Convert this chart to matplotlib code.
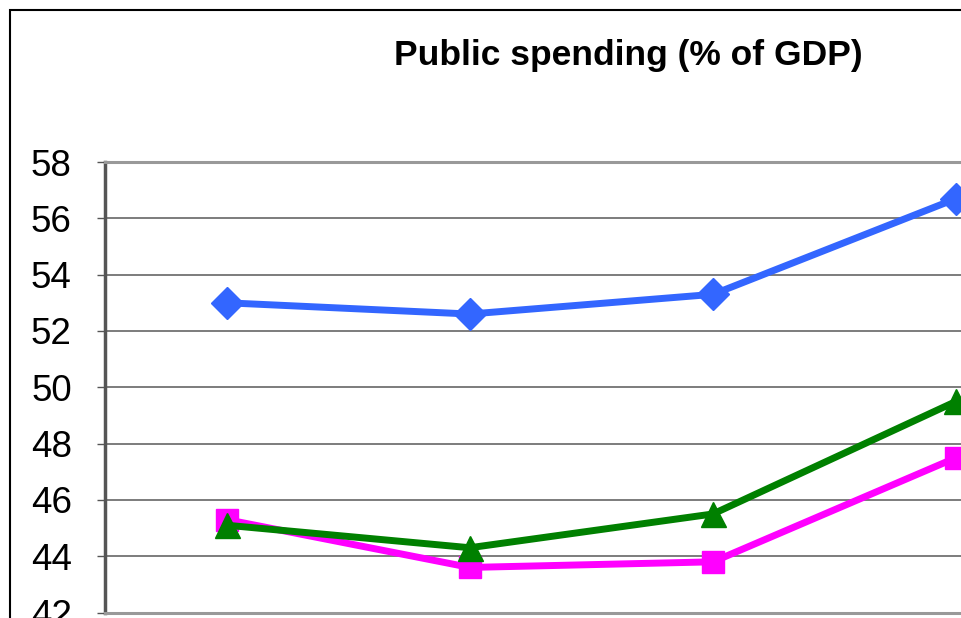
import matplotlib.pyplot as plt
from matplotlib.patches import Rectangle

plt.rcParams['font.family'] = ['Liberation Sans', 'DejaVu Sans']

# public spending, % of GDP
periods = [0, 1, 2, 3]
spend_a = [53.0, 52.6, 53.3, 56.7]
spend_b = [45.3, 43.6, 43.8, 47.5]
spend_c = [45.1, 44.3, 45.5, 49.5]
yticks = [42, 44, 46, 48, 50, 52, 54, 56, 58]

W, H = 961, 618
fig = plt.figure(figsize=(W / 100, H / 100), dpi=100)

# axes box runs off the right edge of the figure
left, top, bottom = 105, 162, 612.5
right = 105 + 243.2 * 4
ax = fig.add_axes([left / W, 1 - bottom / H, (right - left) / W, (bottom - top) / H])

ax.plot(periods, spend_a, color='#3366FF', lw=5, marker='D', ms=16,
        clip_on=False, zorder=3)
ax.plot(periods, spend_b, color='#FF00FF', lw=5, marker='s', ms=16,
        clip_on=False, zorder=3)
ax.plot(periods, spend_c, color='#008000', lw=5, marker='^', ms=18,
        clip_on=False, zorder=4)

ax.set_xlim(-0.5, 3.5)
ax.set_ylim(42, 58)
ax.set_yticks(yticks)
ax.set_xticks([])
ax.tick_params(axis='y', direction='out', length=6, width=1, color='#555555',
               labelsize=26.5, pad=18)
ax.yaxis.grid(True, color='#666666', lw=1.2)
ax.set_axisbelow(True)

for s in ['top', 'bottom', 'right']:
    ax.spines[s].set_color('#999999')
    ax.spines[s].set_linewidth(2.2)
ax.spines['left'].set_color('#555555')
ax.spines['left'].set_linewidth(2.5)

fig.text(628 / W, 1 - 56 / H, 'Public spending (% of GDP)', ha='center',
         va='center', fontsize=25.5, fontweight='bold')

# outer chart frame
fig.patches.append(Rectangle((10 / W, -0.1), 1.2, 1 - 10 / H + 0.1,
                             transform=fig.transFigure, fill=False,
                             edgecolor='black', lw=1.5))

fig.savefig('out.png', dpi=100)
